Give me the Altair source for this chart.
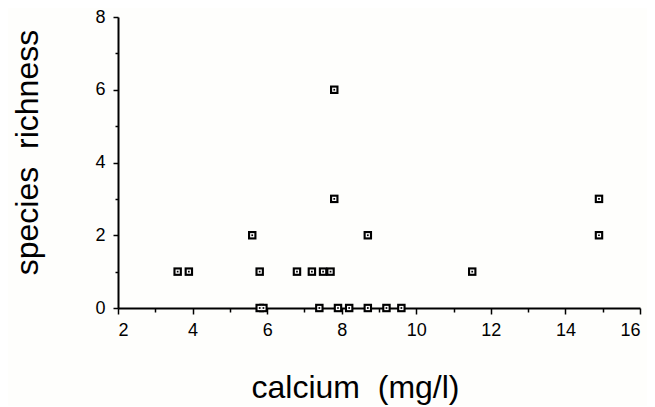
import altair as alt
import pandas as pd

calcium = [3.6, 3.9, 5.6, 5.8, 5.8, 5.9, 6.8, 7.2, 7.4, 7.5, 7.7, 7.8, 7.8, 7.9, 8.2, 8.7, 8.7, 9.2, 9.6, 11.5, 14.9, 14.9]
richness = [1, 1, 2, 1, 0, 0, 1, 1, 0, 1, 1, 6, 3, 0, 0, 2, 0, 0, 0, 1, 3, 2]

df = pd.DataFrame({"calcium": calcium, "richness": richness})

major_x = [2, 4, 6, 8, 10, 12, 14, 16]
minor_x = [3, 5, 7, 9, 11, 13, 15]
major_y = [0, 2, 4, 6, 8]
minor_y = [1, 3, 5, 7]

FONT = "Liberation Sans"
W, H = 522, 291

xscale = alt.Scale(domain=[2, 16], nice=False, zero=False)
yscale = alt.Scale(domain=[0, 8], nice=False)

main_x_axis = alt.Axis(values=major_x, tickSize=6, tickWidth=1.5, tickColor="black",
                       domainColor="black", domainWidth=2, grid=False,
                       labelFont=FONT, labelFontSize=18, labelColor="black", labelPadding=7,
                       title="calcium\u00a0\u00a0(mg/l)", titleFont=FONT, titleFontSize=32,
                       titleFontWeight="normal", titleColor="black",
                       titleX=237, titleY=79, titleBaseline="middle", titleAlign="center",
                       orient="bottom")
main_y_axis = alt.Axis(values=major_y, tickSize=5, tickWidth=1.5, tickColor="black",
                       domainColor="black", domainWidth=2, grid=False,
                       labelFont=FONT, labelFontSize=18, labelColor="black", labelPadding=8,
                       title="species\u00a0\u00a0richness", titleFont=FONT, titleFontSize=32,
                       titleFontWeight="normal", titleColor="black",
                       titleX=-91, titleY=135, titleBaseline="middle", titleAlign="center",
                       titleAngle=270, orient="left")

minor_x_axis = alt.Axis(values=minor_x, tickSize=4, tickWidth=1.5, tickColor="black",
                        domain=False, labels=False, grid=False, title=None, orient="bottom")
minor_y_axis = alt.Axis(values=minor_y, tickSize=3, tickWidth=1.5, tickColor="black",
                        domain=False, labels=False, grid=False, title=None, orient="left")

outer = alt.Chart(df).mark_square(size=72, filled=True, color="black", opacity=1).encode(
    x=alt.X("calcium:Q", scale=xscale, axis=main_x_axis),
    y=alt.Y("richness:Q", scale=yscale, axis=main_y_axis),
)
inner = alt.Chart(df).mark_square(size=18, filled=True, color="white", opacity=1).encode(
    x=alt.X("calcium:Q", scale=xscale, axis=minor_x_axis),
    y=alt.Y("richness:Q", scale=yscale, axis=minor_y_axis),
)
dot = alt.Chart(df).mark_square(size=3, filled=True, color="black", opacity=1).encode(
    x=alt.X("calcium:Q", scale=xscale, axis=None),
    y=alt.Y("richness:Q", scale=yscale, axis=None),
)

chart = alt.layer(outer, inner, dot).resolve_axis(x="independent", y="independent").properties(
    width=W, height=H,
    autosize=alt.AutoSizeParams(type="none"),
    padding={"left": 110, "top": 9, "right": 7, "bottom": 98},
    background="#fefefc",
).configure_view(stroke=None)

chart.save("out.html", embed_options={"renderer": "svg", "actions": False})
